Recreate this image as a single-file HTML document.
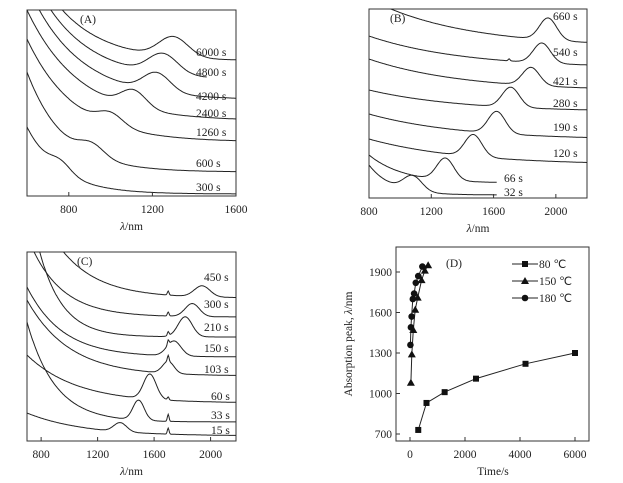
<!DOCTYPE html>
<html><head><meta charset="utf-8">
<style>
html,body{margin:0;padding:0;background:#fff;}
svg{display:block;}
text,tspan{font-family:"Liberation Serif","Times New Roman",serif;font-size:11.5px;fill:#222;}
</style></head>
<body>
<svg id="fig" width="623" height="483" viewBox="0 0 623 483">
<defs>
<clipPath id="clipA"><rect x="27" y="10" width="209" height="186"/></clipPath>
<clipPath id="clipB"><rect x="369" y="9" width="218" height="189"/></clipPath>
<clipPath id="clipC"><rect x="27" y="252" width="209" height="189"/></clipPath>
</defs>
<g id="panelA"></g>
<g id="panelB"></g>
<g id="panelC"></g>
<g id="panelD"></g>
</svg>
<script>
// ---- Panel A data ----
var labelsA=['6000 s','4800 s','4200 s','2400 s','1260 s','600 s','300 s'];
var baseA=[135,116,96,75,54,24,2];
var ampA=[110,115,115,111,103,100,67];
var tauA=[220,230,240,250,230,180,160];
var peakA=[1300,1250,1220,1110,1000,910,760];
var heightA=[20,20,19,17,12,12,10];
var widthA=[70,70,65,60,60,60,50];
var endA=[1600,1460,1600,1600,1600,1600,1600];
var spikeA=[0,0,0,0,0,0,0];
var ticksA=[800,1200,1600];
// ---- Panel B data ----
var labelsB=['660 s','540 s','421 s','280 s','190 s','120 s','66 s','32 s'];
var baseB=[151,130,107,86,58,33,15,3];
var ampB=[48,32,32,22,26,26,28,30];
var tauB=[600,600,600,600,600,600,220,150];
var peakB=[1950,1910,1840,1710,1620,1470,1290,1080];
var heightB=[22,20,18,20,22,22,22,15];
var widthB=[55,55,55,55,55,55,55,60];
var endB=[2200,2200,2200,2200,2200,2200,1620,1620];
var spikeB=[0,2,0,0,0,0,0,0];
var ticksB=[800,1200,1600,2000];
// ---- Panel C data ----
var labelsC=['450 s','300 s','210 s','150 s','103 s','60 s','33 s','15 s'];
var baseC=[143,124,104,84,65,38,19,5];
var ampC=[120,81,147,70,76,48,100,23];
var tauC=[270,227,165,250,300,350,200,400];
var peakC=[1940,1870,1820,1740,1700,1570,1490,1360];
var heightC=[11,13,20,15,12,25,20,9];
var widthC=[55,50,50,50,40,45,40,45];
var endC=[2180,2180,2180,2180,2180,2180,2180,2180];
var spikeC=[4,4,4,5,6,3,7,6];
var ticksC=[800,1200,1600,2000];
// ---- Panel D data ----
var t80=[300,600,1260,2400,4200,6000];
var p80=[730,930,1010,1110,1220,1300];
var t150=[32,66,120,190,280,421,540,660];
var p150=[1080,1290,1470,1620,1710,1840,1910,1950];
var t180=[15,33,60,103,150,210,300,450];
var p180=[1360,1490,1570,1700,1740,1820,1870,1940];
var xTicksD=[0,2000,4000,6000];
var yTicksD=[700,1000,1300,1600,1900];

var NS='http://www.w3.org/2000/svg';
function mk(parent,tag,attrs){var e=document.createElementNS(NS,tag);for(var k in attrs)e.setAttribute(k,attrs[k]);parent.appendChild(e);return e;}
function lin(d0,d1,r0,r1){return function(v){return r0+(v-d0)*(r1-r0)/(d1-d0);};}

function spectra(gid,clip,box,dom,hmax,S,ticks,labelX,labelY){
  var g=document.getElementById(gid);
  var xs=lin(dom[0],dom[1],box.x0,box.x1);
  var ys=lin(0,hmax,box.y1,box.y0);
  var frame=mk(g,'rect',{x:box.x0,y:box.y0,width:box.x1-box.x0,height:box.y1-box.y0,fill:'none',stroke:'#333','stroke-width':1});
  
  
  var cg=mk(g,'g',{'clip-path':'url(#'+clip+')'});
  for(var i=0;i<S.labels.length;i++){
    var d='';
    for(var nm=dom[0];nm<=S.end[i]+0.1;nm+=5){
      var v=S.base[i]+S.amp[i]*Math.exp(-(nm-dom[0])/S.tau[i])
        +S.height[i]*Math.exp(-Math.pow((nm-S.peak[i])/S.width[i],2)/2)
        +S.spike[i]*Math.exp(-Math.pow((nm-1700)/6,2)/2);
      d+=(d?'L':'M')+xs(nm).toFixed(1)+','+ys(v).toFixed(1);
    }
    var p=mk(cg,'path',{d:d,fill:'none',stroke:'#222','stroke-width':1});
    
    
    var t=mk(g,'text',{x:labelX[i],y:labelY[i]});
    t.textContent=S.labels[i];
    
    
  }
  for(var j=0;j<ticks.length;j++){
    var x=xs(ticks[j]);
    mk(g,'line',{x1:x,x2:x,y1:box.y1,y2:box.y1-4,stroke:'#333'});
    var tl=mk(g,'text',{x:x,y:box.y1+17,'text-anchor':'middle'});
    tl.textContent=ticks[j];
    
    
  }
  var xl=mk(g,'text',{x:(box.x0+box.x1)/2,y:box.y1+34,'text-anchor':'middle'});
  xl.innerHTML='<tspan font-style="italic">λ</tspan>/nm';
  
  
}

spectra('panelA','clipA',{x0:27,x1:236,y0:10,y1:196},[600,1600],186,
 {labels:labelsA,base:baseA,amp:ampA,tau:tauA,peak:peakA,height:heightA,width:widthA,end:endA,spike:spikeA},
 ticksA,[196,196,196,196,196,196,196],[56,76,100,117,136,167,191]);
spectra('panelB','clipB',{x0:369,x1:587,y0:9,y1:198},[800,2200],189,
 {labels:labelsB,base:baseB,amp:ampB,tau:tauB,peak:peakB,height:heightB,width:widthB,end:endB,spike:spikeB},
 ticksB,[553,553,553,553,553,553,504,504],[20,56,85,107,131,157,182,196]);
spectra('panelC','clipC',{x0:27,x1:236,y0:252,y1:441},[700,2180],189,
 {labels:labelsC,base:baseC,amp:ampC,tau:tauC,peak:peakC,height:heightC,width:widthC,end:endC,spike:spikeC},
 ticksC,[204,204,204,204,204,211,211,211],[281,308,331,352,373,400,419,434]);

[['(A)',80,23],['(B)',390,22],['(C)',77,265],['(D)',446,267]].forEach(function(a){
  var t=mk(document.getElementById('fig'),'text',{x:a[1],y:a[2]});t.textContent=a[0];
  
  
});

// ---- Panel D ----
(function(){
  var g=document.getElementById('panelD');
  var xs=lin(0,6000,410,575), ys=lin(700,1900,434,272);
  var fr=mk(g,'rect',{x:396,y:247,width:193,height:194,fill:'none',stroke:'#333'});
  
  
  xTicksD.forEach(function(v){var x=xs(v);mk(g,'line',{x1:x,x2:x,y1:441,y2:437,stroke:'#333'});
    var t=mk(g,'text',{x:x,y:458,'text-anchor':'middle'});t.textContent=v;
    
    });
  yTicksD.forEach(function(v){var y=ys(v);mk(g,'line',{x1:396,x2:400,y1:y,y2:y,stroke:'#333'});
    var t=mk(g,'text',{x:392,y:y+4,'text-anchor':'end'});t.textContent=v;
    
    });
  var xt=mk(g,'text',{x:493,y:475,'text-anchor':'middle'});xt.textContent='Time/s';
  
  
  var yt=mk(g,'text',{x:0,y:0,'text-anchor':'middle',transform:'translate(352,344) rotate(-90)'});
  yt.innerHTML='Absorption peak, <tspan font-style="italic">λ</tspan>/nm';
  
  
  function marker(par,type,x,y){
    if(type==='sq') return mk(par,'rect',{x:x-3,y:y-3,width:6,height:6,fill:'#111'});
    if(type==='tri') return mk(par,'polygon',{points:(x)+','+(y-4)+' '+(x-4)+','+(y+3)+' '+(x+4)+','+(y+3),fill:'#111'});
    return mk(par,'circle',{cx:x,cy:y,r:3.3,fill:'#111'});
  }
  var series=[[t80,p80,'sq','80 ℃'],[t150,p150,'tri','150 ℃'],[t180,p180,'ci','180 ℃']];
  series.forEach(function(s,k){
    var sg=mk(g,'g',{});
    
    
    var d='';
    for(var i=0;i<s[0].length;i++) d+=(i?'L':'M')+xs(s[0][i]).toFixed(1)+','+ys(s[1][i]).toFixed(1);
    mk(sg,'path',{d:d,fill:'none',stroke:'#222','stroke-width':1});
    for(i=0;i<s[0].length;i++){var m=marker(sg,s[2],xs(s[0][i]),ys(s[1][i]));
      
      }
    var ly=264+k*17;
    var lg=mk(g,'g',{});
    
    
    mk(lg,'line',{x1:512,x2:538,y1:ly,y2:ly,stroke:'#222'});
    marker(lg,s[2],525,ly);
    var lt=mk(lg,'text',{x:539,y:ly+4});lt.textContent=s[3];
  });
})();
</script>
</body></html>
